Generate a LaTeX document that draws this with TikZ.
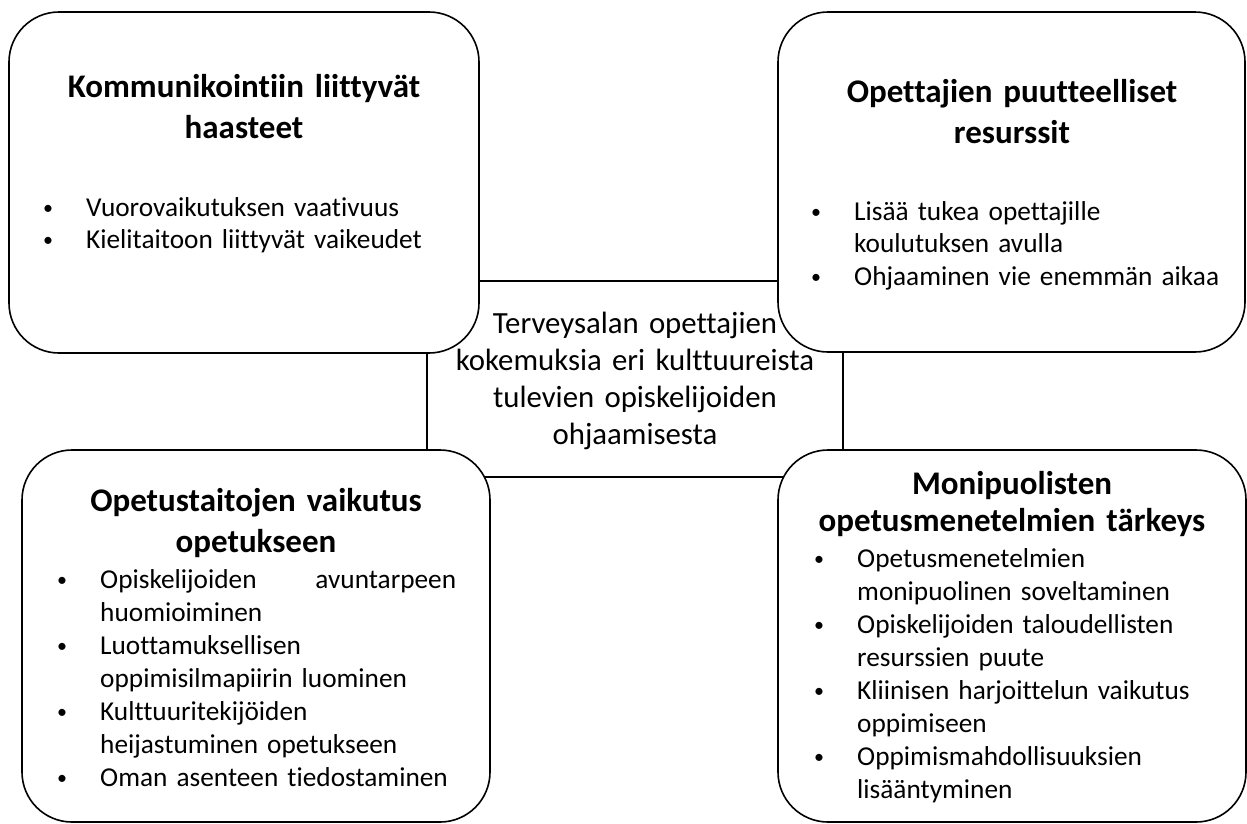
\documentclass[tikz,border=0pt]{standalone}
\usepackage{fontspec}
\setmainfont{Carlito}[Ligatures=NoCommon]
\newcommand\bdot{\raisebox{1.5pt}{\fontsize{20}{20}\selectfont\textbullet}}
\newcommand\bitem[1]{\makebox[43pt][l]{\bdot}#1}
\newcommand\cont[1]{\hspace*{43pt}#1}
\tikzset{
  box/.style={draw, line width=1.6pt, rounded corners=50pt, fill=white, inner sep=0pt},
  ttl/.style={font=\bfseries\fontsize{33}{41}\selectfont, align=center, anchor=base, text width=460pt, inner sep=0pt},
  lst/.style={font=\fontsize{27.3}{32.5}\selectfont, anchor=base west, text width=440pt, align=left, inner sep=0pt},
  ctr/.style={font=\fontsize{30.8}{37}\selectfont, align=center, anchor=base, text width=410pt, inner sep=0pt}
}
\begin{document}
\begin{tikzpicture}[x=1pt,y=-1pt]
\useasboundingbox (0,0) rectangle (1247,823);
% central rectangle
\node[draw, line width=1.6pt, minimum width=416pt, minimum height=196pt, inner sep=0pt] (c) at (635,379) {};
% corner boxes
\node[box, minimum width=470pt, minimum height=341pt] (tl) at (244,182.5) {};
\node[box, minimum width=467pt, minimum height=340pt] (tr) at (1011.5,182) {};
\node[box, minimum width=468pt, minimum height=372pt] (bl) at (256,636) {};
\node[box, minimum width=468pt, minimum height=372pt] (br) at (1012,636) {};
% centre text
\node[ctr] (ct) at (635,333) {Terveysalan opettajien\\kokemuksia eri kulttuureista\\tulevien opiskelijoiden\\ohjaamisesta};
% titles
\node[ttl] (tlt) at (244,97) {Kommunikointiin liittyvät\\haasteet};
\node[ttl] (trt) at (1012,102) {Opettajien puutteelliset\\resurssit};
\node[ttl] (blt) at (256,511) {Opetustaitojen vaikutus\\opetukseen};
\node[ttl, font=\bfseries\fontsize{33}{37}\selectfont] (brt) at (1012,494) {Monipuolisten\\opetusmenetelmien tärkeys};
% lists
\node[lst, font=\fontsize{27.3}{32}\selectfont] (tll) at (43,216) {\bitem{Vuorovaikutuksen vaativuus}\\\bitem{Kielitaitoon liittyvät vaikeudet}};
\node[lst] (trl) at (811,220) {\bitem{Lisää tukea opettajille}\\\cont{koulutuksen avulla}\\\bitem{Ohjaaminen vie enemmän aikaa}};
\node[lst, font=\fontsize{27.3}{33}\selectfont] (bll) at (57,588) {\bitem{\makebox[356pt]{Opiskelijoiden\hfill avuntarpeen}}\\\cont{huomioiminen}\\\bitem{Luottamuksellisen}\\\cont{oppimisilmapiirin luominen}\\\bitem{Kulttuuritekijöiden}\\\cont{heijastuminen opetukseen}\\\bitem{Oman asenteen tiedostaminen}};
\node[lst, font=\fontsize{27.3}{33}\selectfont] (brl) at (814,567) {\bitem{Opetusmenetelmien}\\\cont{monipuolinen soveltaminen}\\\bitem{Opiskelijoiden taloudellisten}\\\cont{resurssien puute}\\\bitem{Kliinisen harjoittelun vaikutus}\\\cont{oppimiseen}\\\bitem{Oppimismahdollisuuksien}\\\cont{lisääntyminen}};
\end{tikzpicture}
\end{document}
